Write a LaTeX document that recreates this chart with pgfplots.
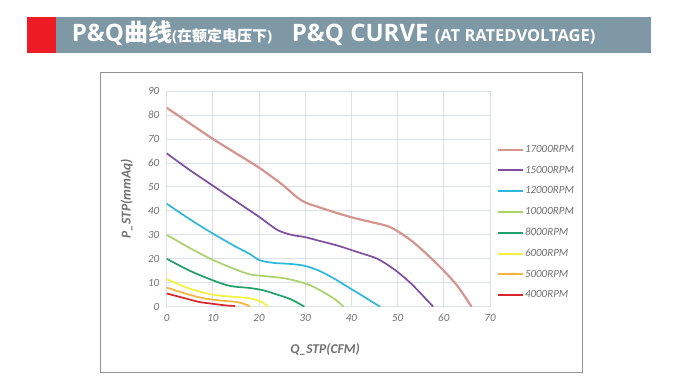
\documentclass[border=0pt]{standalone}
\usepackage{fontspec}
\setmainfont{Carlito}
\newfontfamily\headfont{Open Sans}
\newfontfamily\cjk{Noto Sans CJK SC}
\usepackage{pgfplots}
\pgfplotsset{compat=1.18}
\definecolor{hgray}{HTML}{7F98A6}
\definecolor{hred}{HTML}{ED1C24}
\definecolor{c17}{HTML}{D4958F}
\definecolor{c15}{HTML}{7D4E9F}
\definecolor{c12}{HTML}{2DB7DC}
\definecolor{c10}{HTML}{A9D26B}
\definecolor{c8}{HTML}{22A06B}
\definecolor{c6}{HTML}{F2F23C}
\definecolor{c5}{HTML}{F5B53A}
\definecolor{c4}{HTML}{D8262C}
\definecolor{gridc}{HTML}{DCE1E8}
\definecolor{txt}{HTML}{707070}
\begin{document}
\begin{tikzpicture}[x=1pt,y=1pt]
\path[use as bounding box,fill=white] (0,0) rectangle (680,380);
\fill[hred] (27.3,327.3) rectangle (56,363.3);
\fill[hgray] (56,327.3) rectangle (650.7,363.3);
\node[anchor=base west,inner sep=0,text=white] at (71.7,338.3)
 {\headfont\bfseries\fontsize{24}{24}\selectfont P\&Q{\cjk\bfseries 曲线}\fontsize{15}{15}\selectfont(\cjk\bfseries 在额定电压下\headfont\bfseries)};
\node[anchor=base west,inner sep=0,text=white] at (291.7,338.3)
 {\headfont\bfseries\fontsize{24}{24}\selectfont P\&Q CURVE \fontsize{16.5}{16.5}\selectfont(AT RATEDVOLTAGE)};
\draw[color=gray!85,line width=1.5pt] (100.7,307.3) rectangle (582.7,7.3);
\begin{axis}[
  at={(166.7pt,73.3pt)}, anchor=south west,
  scale only axis, width=323.3pt, height=215.7pt,
  xmin=0, xmax=70, ymin=0, ymax=90,
  xtick={0,10,...,70}, ytick={0,10,...,90},
  major tick length=0pt,
  grid=major, major grid style={gridc, line width=0.8pt},
  axis line style={gridc, line width=0.8pt},
  /pgf/number format/assume math mode=true,
  ticklabel style={font=\fontsize{11}{11}\selectfont\itshape, text=txt},
  xticklabel style={yshift=-4pt},
  yticklabel style={xshift=-4pt},
  xlabel={Q\_STP(CFM)}, ylabel={P\_STP(mmAq)},
  xlabel style={at={(axis description cs:0.49,-0.199)}, anchor=center, font=\fontsize{13.5}{13.5}\selectfont\bfseries\itshape, text=txt},
  ylabel style={at={(axis description cs:-0.124,0.5)}, anchor=center, font=\fontsize{13.5}{13.5}\selectfont\bfseries\itshape, text=txt},
  legend cell align=left,
  legend image code/.code={\draw[#1, line width=2pt] (0pt,0pt) -- (25pt,0pt);},
  legend style={at={(axis description cs:1.0217,0.755)}, anchor=north west, draw=none, fill=none,
    inner sep=0pt, row sep=9.9pt,
    nodes={inner sep=0.8pt, text height=7.5pt, text depth=1.8pt, font=\fontsize{11}{11}\selectfont\itshape, text=txt}},
  every axis plot/.append style={smooth, tension=0.5, line width=1.7pt},
]
\addplot[c17, line width=2.2pt] coordinates {(0,83)(5,76.5)(10,70)(15,64)(20,58)(25,51)(28,46)(30,43.5)(33,41.5)(37,39)(41,36.8)(45,35)(48,33.5)(50,31.5)(53,27.5)(56,22.5)(60,15)(63,8.5)(66,0)};
\addlegendentry{17000RPM}
\addplot[c15] coordinates {(0,64)(5,57)(10,50.5)(15,44)(20,37.5)(24,32)(27,30)(30,29)(33,27.5)(37,25.5)(41,23)(45,20.5)(47,18.5)(50,14.5)(53,9.5)(56,3.5)(57.7,0)};
\addlegendentry{15000RPM}
\addplot[c12] coordinates {(0,43)(5,36.5)(10,30.5)(15,25)(18,22)(20,19.5)(23,18.3)(27,17.8)(30,17)(33,15)(36,12)(39,8.5)(42,5)(44.5,2)(46.2,0)};
\addlegendentry{12000RPM}
\addplot[c10] coordinates {(0,30)(5,24.5)(10,19.5)(15,15.5)(18,13.5)(21,12.8)(25,12)(28,10.8)(31,9)(34,6)(36.5,3)(38.3,0)};
\addlegendentry{10000RPM}
\addplot[c8] coordinates {(0,20)(5,15)(10,11)(13,9)(15,8.3)(18,7.8)(21,6.8)(24,5)(27,3)(29.8,0)};
\addlegendentry{8000RPM}
\addplot[c6] coordinates {(0,11.5)(5,7.5)(10,5)(14,4.2)(18,3.5)(20.5,2)(22,0)};
\addlegendentry{6000RPM}
\addplot[c5] coordinates {(0,8)(4,5.5)(8,3.5)(12,2.5)(15,2)(17,1)(18,0.2)};
\addlegendentry{5000RPM}
\addplot[c4] coordinates {(0,5.5)(4,3.5)(7,2)(10,1.2)(13,0.5)(14.8,0.3)};
\addlegendentry{4000RPM}
\end{axis}
\end{tikzpicture}
\end{document}
